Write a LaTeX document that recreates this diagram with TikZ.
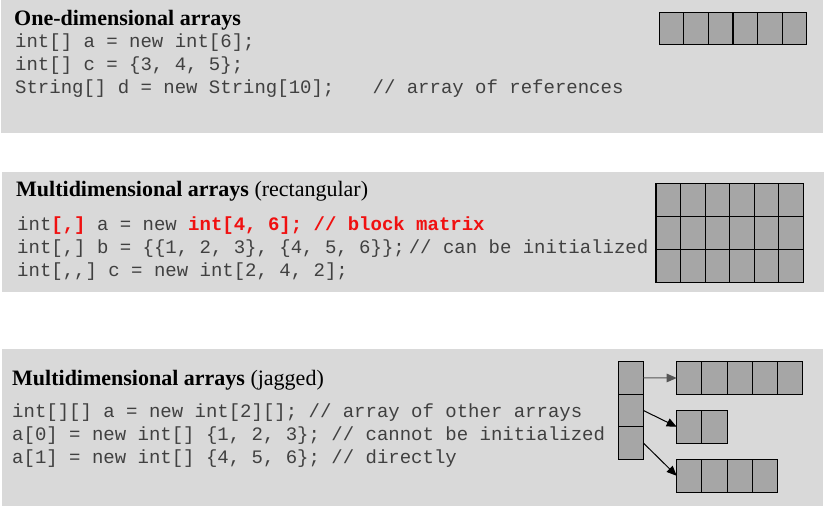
\documentclass[tikz,border=0pt]{standalone}
\usepackage{fontspec}
\setmainfont{Liberation Serif}
\setmonofont{Liberation Mono}
\usetikzlibrary{arrows.meta}
\definecolor{panelbg}{HTML}{D9D9D9}
\definecolor{cellgray}{HTML}{A6A6A6}
\definecolor{codegray}{HTML}{404040}
\definecolor{hired}{HTML}{F01010}
\definecolor{arrowgray}{HTML}{555555}
\newcommand{\hl}[1]{\textcolor{hired}{\bfseries #1}}
\begin{document}
\begin{tikzpicture}[x=1pt,y=-1pt,
  panel/.style={fill=panelbg,draw=none},
  head/.style={anchor=base west,inner sep=0pt,font=\fontsize{22}{24}\selectfont\bfseries},
  code/.style={anchor=base west,inner sep=0pt,text=codegray,font=\ttfamily\fontsize{19}{23}\selectfont},
  cell/.style={draw=black,fill=cellgray,line width=1.1pt,inner sep=0pt,outer sep=0pt,anchor=north west,minimum width=#1},
  cell/.default=24.6pt,
  ptr/.style={line width=1pt,-{Triangle[length=10pt,width=8.5pt]}}]
\useasboundingbox (0,0) rectangle (835,510);
% panels
\fill[panelbg] (1,0) rectangle (823,133);
\fill[panelbg] (2,172) rectangle (824,292);
\fill[panelbg] (2,349) rectangle (823,506);

% ---------- panel 1
\node[head] (h1) at (14,26) {One-dimensional arrays};
\node[code] (c11) at (15,48) {int[] a = new int[6];};
\node[code] (c12) at (15,71) {int[] c = \{3, 4, 5\};};
\node[code] (c13) at (15,94) {String[] d = new String[10];~~~\kern4pt// array of references};
\foreach \i in {0,...,5}
  \node[cell=24.57pt,minimum height=32pt] (a\i) at ({659.3+24.57*\i},12.3) {};

% ---------- panel 2
\node[head] (h2) at (16,197) {Multidimensional arrays \mdseries(rectangular)};
\node[code] (c21) at (17,231) {int\hl{[,]} a = new \hl{int[4, 6]; // block matrix}};
\node[code] (c22) at (17,254) {int[,] b = \{\{1, 2, 3\}, \{4, 5, 6\}\};\kern4pt// can be initialized};
\node[code] (c23) at (17,277) {int[,,] c = new int[2, 4, 2];};
\foreach \r in {0,1,2}
  \foreach \i in {0,...,5}
    \node[cell=24.55pt,minimum height=33pt] (m\r\i) at ({656+24.55*\i},{183.3+33*\r}) {};

% ---------- panel 3
\node[head] (h3) at (12,385) {Multidimensional arrays \mdseries(jagged)};
\node[code] (c31) at (12,417) {int[][] a = new int[2][]; // array of other arrays};
\node[code] (c32) at (12,440) {a[0] = new int[] \{1, 2, 3\}; // cannot be initialized};
\node[code] (c33) at (12,463) {a[1] = new int[] \{4, 5, 6\}; // directly};
\foreach \r in {1,2,3}
  \node[cell=25pt,minimum height=32.5pt] (p\r) at (618.3,{361.7+32.5*(\r-1)}) {};
\foreach \i in {0,...,4}
  \node[cell=25.2pt,minimum height=32.6pt] (ra\i) at ({676.7+25.2*\i},361.7) {};
\foreach \i in {0,1}
  \node[cell=25.2pt,minimum height=33pt] (rb\i) at ({676.7+25.2*\i},410.3) {};
\foreach \i in {0,...,3}
  \node[cell=25.2pt,minimum height=33pt] (rc\i) at ({676.7+25.2*\i},459.3) {};
\draw[ptr,draw=arrowgray] (p1.east) -- (ra0.west);
\draw[ptr] (p2.east) -- (rb0.west);
\draw[ptr] (p3.east) -- (rc0.west);
\end{tikzpicture}
\end{document}
